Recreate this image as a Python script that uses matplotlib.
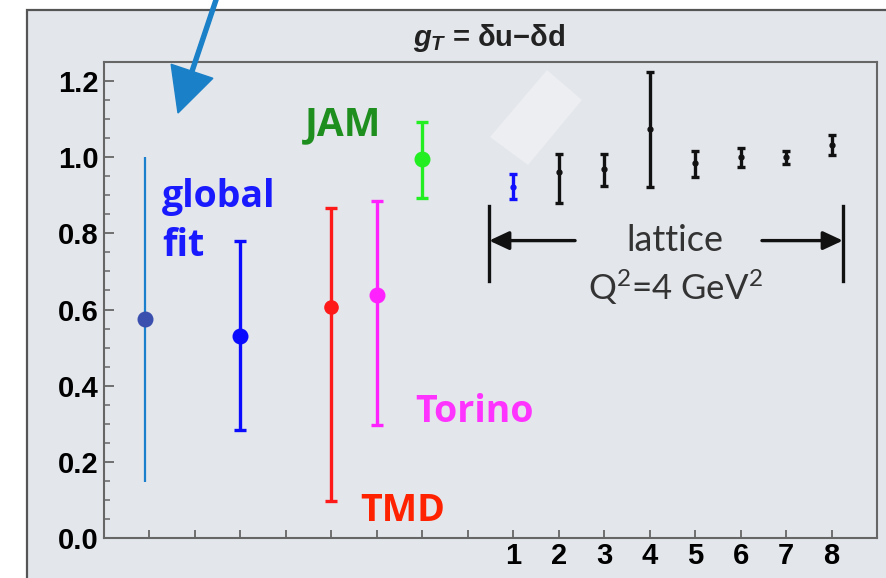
import matplotlib
matplotlib.use("Agg")
import matplotlib.pyplot as plt
from matplotlib.patches import Rectangle, Polygon, FancyArrow
from matplotlib.transforms import IdentityTransform
from matplotlib.ticker import MultipleLocator

# ---------------- data ----------------
# phenomenological extractions (x position on the axis, central value, lower, upper)
pheno_names = ["global fit", "global fit (blue)", "TMD", "Torino", "JAM"]
pheno_x = [-7.1, -5, -3, -2, -1]
pheno_val = [0.575, 0.53, 0.606, 0.637, 0.995]
pheno_lo = [0.147, 0.283, 0.097, 0.296, 0.894]
pheno_hi = [1.001, 0.780, 0.866, 0.886, 1.093]
pheno_colors = ["#1a7fcc", "#0a0aff", "#ff1a1a", "#ff22ff", "#22ee22"]
pheno_marker_colors = ["#3a4fae", "#0a0aff", "#ff1a1a", "#ff22ff", "#22ee22"]

# lattice results 1..8
lat_x = [1, 2, 3, 4, 5, 6, 7, 8]
lat_val = [0.923, 0.962, 0.970, 1.075, 0.984, 1.001, 1.000, 1.033]
lat_lo = [0.889, 0.881, 0.925, 0.923, 0.949, 0.973, 0.983, 1.007]
lat_hi = [0.957, 1.009, 1.009, 1.225, 1.017, 1.025, 1.017, 1.059]
lat_colors = ["#1010ff"] + ["#111111"] * 7

xticks = list(range(-7, 9))
xticklabels = [str(t) if t >= 1 else "" for t in xticks]
yticks = [0.0, 0.2, 0.4, 0.6, 0.8, 1.0, 1.2]
yticklabels = ["0.0", "0.2", "0.4", "0.6", "0.8", "1.0", "1.2"]

plt.rcParams["mathtext.fontset"] = "custom"
plt.rcParams["mathtext.it"] = "Liberation Sans:bold:italic"
plt.rcParams["mathtext.rm"] = "Lato"
plt.rcParams["mathtext.bf"] = "Liberation Sans:bold"

# ---------------- figure ----------------
W, H = 886, 578
fig = plt.figure(figsize=(W / 100, H / 100), dpi=100, facecolor="white")
bg = "#e3e6eb"

# outer frame
fig.add_artist(Rectangle((27, -20), 900, 578 - 10 + 20, transform=IdentityTransform(),
                         facecolor=bg, edgecolor="#555555", linewidth=1.6, zorder=0))

ax = fig.add_axes([104 / W, 1 - 538 / H, (877 - 104) / W, (538 - 62) / H])
ax.set_facecolor(bg)
ax.set_xlim(-8, 9)
ax.set_ylim(0, 1.25)

for sp in ax.spines.values():
    sp.set_color("#666666")
    sp.set_linewidth(1.5)

ax.set_xticks(xticks)
ax.set_xticklabels(xticklabels, fontsize=21, fontweight="bold", family="Liberation Sans")
ax.set_yticks(yticks)
ax.set_yticklabels(yticklabels, fontsize=21, fontweight="bold", family="Liberation Sans")
ax.yaxis.set_minor_locator(MultipleLocator(0.05))
ax.tick_params(axis="both", which="both", direction="in", color="#666666")
ax.tick_params(axis="y", which="major", length=7, width=1.3, pad=4)
ax.tick_params(axis="y", which="minor", length=4, width=1.1)
ax.tick_params(axis="x", which="major", length=6, width=1.3, pad=3)
ax.tick_params(top=False, right=False)

# phenomenology points
for i in range(len(pheno_x)):
    lw = 1.6 if i == 0 else 2.4
    cap = 0 if i == 0 else 4
    ms = 10.5 if i != 2 else 9.5
    ax.errorbar([pheno_x[i]], [pheno_val[i]],
                yerr=[[pheno_val[i] - pheno_lo[i]], [pheno_hi[i] - pheno_val[i]]],
                fmt="o", color=pheno_colors[i], mfc=pheno_marker_colors[i],
                mec=pheno_marker_colors[i], ms=ms, elinewidth=lw, capsize=cap,
                capthick=lw, zorder=3)

# lattice points
for i in range(len(lat_x)):
    ax.errorbar([lat_x[i]], [lat_val[i]],
                yerr=[[lat_val[i] - lat_lo[i]], [lat_hi[i] - lat_val[i]]],
                fmt="o", color=lat_colors[i], ms=3.5, elinewidth=2.4, capsize=3,
                capthick=2.4, zorder=3)

# labels
lab_font = "Open Sans"
lab_size = 27
ax.text(-6.72, 0.895, "global", color="#1a1aff", fontsize=lab_size, fontweight="bold",
        family=lab_font, ha="left", va="center")
ax.text(-6.72, 0.768, "fit", color="#1a1aff", fontsize=lab_size, fontweight="bold",
        family=lab_font, ha="left", va="center")
ax.text(-3.58, 1.085, "JAM", color="#1e8f1e", fontsize=lab_size + 1, fontweight="bold",
        family=lab_font, ha="left", va="center")
ax.text(-1.16, 0.33, "Torino", color="#ff33ff", fontsize=lab_size, fontweight="bold",
        family=lab_font, ha="left", va="center")
ax.text(-2.37, 0.07, "TMD", color="#ff2200", fontsize=lab_size, fontweight="bold",
        family=lab_font, ha="left", va="center")

ax.text(4.56, 0.78, "lattice", color="#333333", fontsize=26, family="Lato",
        ha="center", va="center")
ax.text(4.56, 0.658, r"Q$^{2}$=4 GeV$^{2}$", color="#333333", fontsize=25, family="Lato",
        ha="center", va="center")

# lattice range arrows
for xb in (0.47, 8.25):
    ax.plot([xb, xb], [0.676, 0.873], color="#111111", lw=2.4, zorder=3)
astyle = "-|>,head_length=0.6,head_width=0.28"
ax.annotate("", xy=(0.47, 0.781), xytext=(2.36, 0.781),
            arrowprops=dict(arrowstyle=astyle, mutation_scale=20,
                            color="#111111", lw=2.4, shrinkA=0, shrinkB=0))
ax.annotate("", xy=(8.25, 0.781), xytext=(6.47, 0.781),
            arrowprops=dict(arrowstyle=astyle, mutation_scale=20,
                            color="#111111", lw=2.4, shrinkA=0, shrinkB=0))

# title
fig.text(489 / W, 1 - 38 / H, r"$g_T$ = δu−δd", fontsize=21, fontweight="bold",
         family="Liberation Sans", ha="center", va="center", color="#222222")

# overlay: pale rotated patch
fig.add_artist(Polygon([(547, 508), (582, 478), (528, 413), (490, 441)], closed=True,
                       transform=IdentityTransform(), facecolor="#eceef1",
                       edgecolor="none", zorder=5))

# overlay: big blue pointer arrow
fig.add_artist(FancyArrow(220, 590, 178 - 220, 465 - 590, width=4, head_width=44,
                          head_length=44, length_includes_head=True,
                          transform=IdentityTransform(), color="#1a80c8", zorder=6))

fig.savefig("out.png", dpi=100, facecolor="white")
